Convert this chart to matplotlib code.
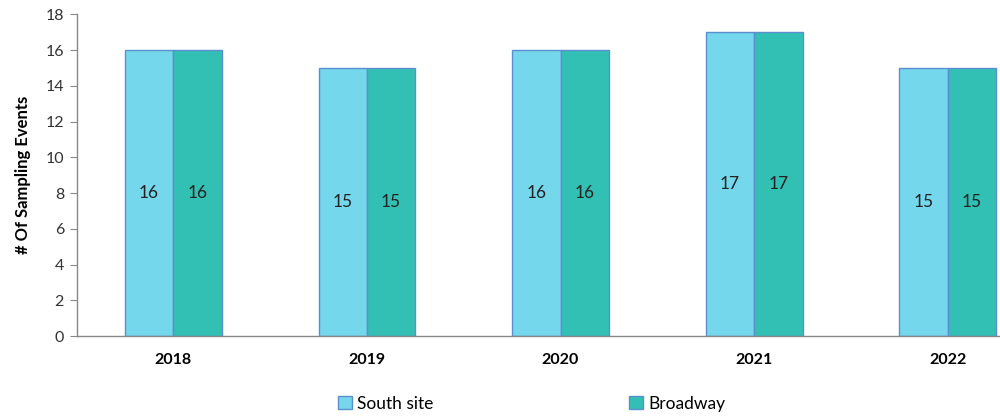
import numpy as np
import matplotlib.pyplot as plt

plt.rcParams['font.family'] = ['Lato', 'DejaVu Sans']

# ── DATA ────────────────────────────────────────────────────────────────────
years = ["2018", "2019", "2020", "2021", "2022"]
south_site = [16, 15, 16, 17, 15]
broadway = [16, 15, 16, 17, 15]

# ── PLOT ────────────────────────────────────────────────────────────────────
fig = plt.figure(figsize=(10, 4.19), dpi=100)
ax = fig.add_axes([0.0765, 0.198, 0.968, 0.768])

x = np.arange(len(years))
w = 0.25
edge = "#5B8FD0"
b1 = ax.bar(x - w / 2, south_site, w, color="#75D7EC", edgecolor=edge,
            linewidth=1.0, label="South site")
b2 = ax.bar(x + w / 2, broadway, w, color="#33C0B4", edgecolor=edge,
            linewidth=1.0, label="Broadway")
ax.bar_label(b1, label_type="center", fontsize=12.5, color="#222222")
ax.bar_label(b2, label_type="center", fontsize=12.5, color="#222222")

ax.set_xlim(-0.5, len(years) - 0.5)
ax.set_ylim(0, 18)
ax.set_yticks(np.arange(0, 19, 2))
ax.set_xticks(x)
ax.set_xticklabels(years, fontweight="bold", fontsize=11.5)
ax.tick_params(axis="x", length=0, pad=12)
ax.tick_params(axis="y", length=5, color="#888888", labelsize=11.5,
               labelcolor="#333333", pad=4)
ax.set_ylabel("# Of Sampling Events", fontweight="bold", fontsize=12,
              labelpad=10)

for s in ["top", "right"]:
    ax.spines[s].set_visible(False)
for s in ["left", "bottom"]:
    ax.spines[s].set_color("#888888")
    ax.spines[s].set_linewidth(1.0)

fig.legend(loc="lower left", bbox_to_anchor=(0.322, -0.02), ncol=2,
           frameon=False, fontsize=12.5, columnspacing=11.3, handlelength=0.8,
           handleheight=0.8, handletextpad=0.3)

plt.savefig("out.png", dpi=100)
